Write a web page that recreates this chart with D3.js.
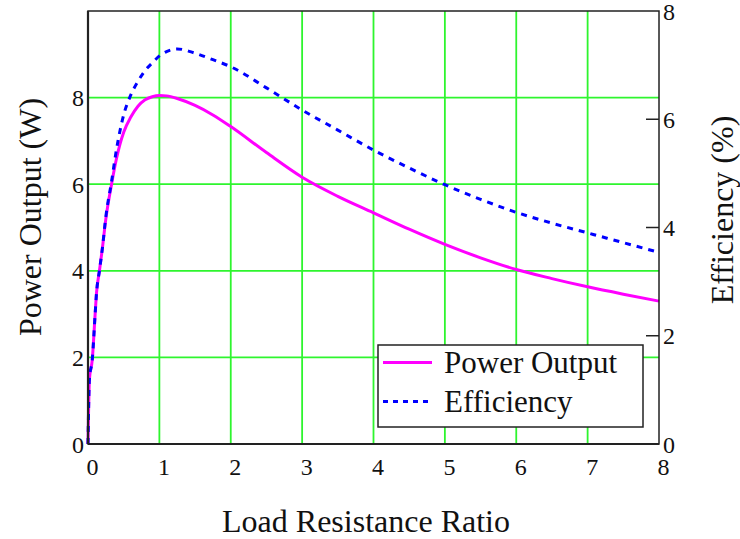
<!DOCTYPE html>
<html><head><meta charset="utf-8">
<script src="https://cdn.jsdelivr.net/npm/d3@7"></script>
<style>html,body{margin:0;padding:0;background:#fff;}svg{display:block;}</style>
</head><body>
<svg id="c" width="740" height="539"></svg>
<script>
const ratio = [0, 0.02, 0.06, 0.1, 0.12, 0.16, 0.2, 0.25, 0.33, 0.4, 0.5, 0.6, 0.7, 0.8, 0.9, 1.0, 1.1, 1.25, 1.5, 1.75, 2, 2.5, 3, 3.5, 4, 4.5, 5, 5.5, 6, 6.5, 7, 7.5, 8];
const powerW = [0, 1.5, 1.95, 3.0, 3.5, 4.0, 4.5, 5.2, 6.0, 6.6, 7.2, 7.55, 7.8, 7.95, 8.02, 8.05, 8.04, 7.98, 7.82, 7.6, 7.33, 6.73, 6.16, 5.72, 5.34, 4.96, 4.61, 4.3, 4.03, 3.82, 3.63, 3.46, 3.30];
const efficiency = [0, 1.2, 1.56, 2.4, 2.8, 3.2, 3.6, 4.2, 4.85, 5.45, 6.08, 6.45, 6.7, 6.9, 7.04, 7.17, 7.25, 7.3, 7.22, 7.1, 6.97, 6.58, 6.17, 5.8, 5.43, 5.1, 4.79, 4.52, 4.28, 4.08, 3.9, 3.72, 3.54];
const xTicks = [0, 1, 2, 3, 4, 5, 6, 7, 8];
const yLeftTicks = [0, 2, 4, 6, 8];
const yRightTicks = [0, 2, 4, 6, 8];
const seriesNames = ["Power Output", "Efficiency"];
const xTitle = "Load Resistance Ratio";
const yLeftTitle = "Power Output (W)";
const yRightTitle = "Efficiency (%)";

const svg = d3.select("#c");
const L = 88, R = 659, T = 11, B = 444;
const font = "'Liberation Serif','Times New Roman',serif";
const x = d3.scaleLinear().domain([0, 8]).range([L, R]);
const yL = d3.scaleLinear().domain([0, 10]).range([B, T]);
const yR = d3.scaleLinear().domain([0, 8]).range([B, T]);
const green = "#2ef52e";

// grid
svg.append("g").selectAll("line").data(xTicks.filter(d => d > 0 && d < 8)).join("line")
  .attr("x1", d => x(d)).attr("x2", d => x(d)).attr("y1", T).attr("y2", B)
  .attr("stroke", green).attr("stroke-width", 1.8);
svg.append("g").selectAll("line").data(yLeftTicks.filter(d => d > 0)).join("line")
  .attr("x1", L).attr("x2", R).attr("y1", d => yL(d)).attr("y2", d => yL(d))
  .attr("stroke", green).attr("stroke-width", 1.8);

// lines
const pts = ratio.map((r, i) => ({r, p: powerW[i], e: efficiency[i]}));
svg.append("path").datum(pts)
  .attr("d", d3.line().x(d => x(d.r)).y(d => yL(d.p)).curve(d3.curveMonotoneX))
  .attr("fill", "none").attr("stroke", "#ff00ff").attr("stroke-width", 3);
svg.append("path").datum(pts)
  .attr("d", d3.line().x(d => x(d.r)).y(d => yR(d.e)).curve(d3.curveMonotoneX))
  .attr("fill", "none").attr("stroke", "#0000ff").attr("stroke-width", 3)
  .attr("stroke-dasharray", "6,6");

// frame
svg.append("rect").attr("x", L).attr("y", T).attr("width", R - L).attr("height", B - T)
  .attr("fill", "none").attr("stroke", "#222").attr("stroke-width", 1.5);
svg.append("line").attr("x1", L).attr("x2", L).attr("y1", T).attr("y2", B)
  .attr("stroke", "#222").attr("stroke-width", 2.2);
svg.append("line").attr("x1", L).attr("x2", R).attr("y1", B).attr("y2", B)
  .attr("stroke", "#222").attr("stroke-width", 2.2);

// right ticks (inward)
svg.append("g").selectAll("line").data(yRightTicks.filter(d => d > 0 && d < 8)).join("line")
  .attr("x1", R - 13).attr("x2", R).attr("y1", d => yR(d)).attr("y2", d => yR(d))
  .attr("stroke", "#222").attr("stroke-width", 1.5);

// tick labels
const tickSize = 24;
svg.append("g").selectAll("text").data(xTicks).join("text")
  .attr("x", d => x(d) + 4.5).attr("y", 475).attr("text-anchor", "middle")
  .attr("font-family", font).attr("font-size", tickSize).attr("fill", "#111").text(d => d);
svg.append("g").selectAll("text").data(yLeftTicks).join("text")
  .attr("x", 84).attr("y", d => yL(d) + 8.5).attr("text-anchor", "end")
  .attr("font-family", font).attr("font-size", tickSize).attr("fill", "#111").text(d => d);
svg.append("g").selectAll("text").data(yRightTicks).join("text")
  .attr("x", 663).attr("y", d => yR(d) + 8.5).attr("text-anchor", "start")
  .attr("font-family", font).attr("font-size", tickSize).attr("fill", "#111").text(d => d);

// titles
const titleSize = 32;
svg.append("text").attr("x", 366).attr("y", 532).attr("text-anchor", "middle")
  .attr("font-family", font).attr("font-size", titleSize).attr("fill", "#111").text(xTitle);
svg.append("text").attr("transform", "translate(41,217) rotate(-90)").attr("text-anchor", "middle")
  .attr("font-family", font).attr("font-size", titleSize).attr("fill", "#111").text(yLeftTitle);
svg.append("text").attr("transform", "translate(733,210) rotate(-90)").attr("text-anchor", "middle")
  .attr("font-family", font).attr("font-size", titleSize).attr("fill", "#111").text(yRightTitle);

// legend
const lg = svg.append("g");
lg.append("rect").attr("x", 378).attr("y", 345).attr("width", 265).attr("height", 82)
  .attr("fill", "#fff").attr("stroke", "#222").attr("stroke-width", 1.5);
const legY = [362.5, 401.5];
const legStroke = [{c: "#ff00ff", d: null}, {c: "#0000ff", d: "5,5"}];
seriesNames.forEach((n, i) => {
  lg.append("line").attr("x1", 383).attr("x2", 432).attr("y1", legY[i]).attr("y2", legY[i])
    .attr("stroke", legStroke[i].c).attr("stroke-width", 3)
    .attr("stroke-dasharray", legStroke[i].d);
  lg.append("text").attr("x", 444).attr("y", legY[i] + 10.5)
    .attr("font-family", font).attr("font-size", 31).attr("fill", "#111").text(n);
});
</script>
</body></html>
